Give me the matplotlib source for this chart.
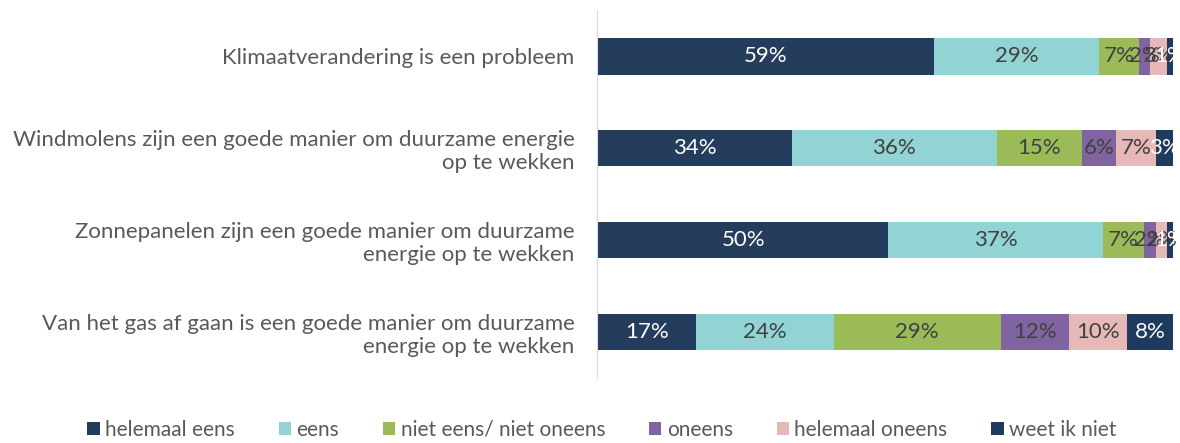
import numpy as np
import matplotlib.pyplot as plt

statements = [
    'Klimaatverandering is een probleem',
    'Windmolens zijn een goede manier om duurzame energie\nop te wekken',
    'Zonnepanelen zijn een goede manier om duurzame\nenergie op te wekken',
    'Van het gas af gaan is een goede manier om duurzame\nenergie op te wekken',
]
answers = ['helemaal eens', 'eens', 'niet eens/ niet oneens', 'oneens',
           'helemaal oneens', 'weet ik niet']
helemaal_eens = [59, 34, 50, 17]
eens = [29, 36, 37, 24]
neutraal = [7, 15, 7, 29]
oneens = [2, 6, 2, 12]
helemaal_oneens = [3, 7, 2, 10]
weet_niet = [1, 3, 1, 8]

colors = ['#243D5C', '#92D4D4', '#9BBB59', '#8064A2', '#E6B9B8', '#1F3A5F']
text_colors = ['white', '#404040', '#404040', '#404040', '#404040', 'white']

plt.rcParams['font.family'] = ['Lato', 'DejaVu Sans']

series = np.array([helemaal_eens, eens, neutraal, oneens, helemaal_oneens, weet_niet], dtype=float)
totals = series.sum(axis=0)
shares = series / totals * 100

fig = plt.figure(figsize=(11.8, 4.43), dpi=100)
ax = fig.add_axes([0.507, 0.147, 0.487, 0.83])
y = np.arange(len(statements))
left = np.zeros(len(statements))
for i, name in enumerate(answers):
    ax.barh(y, shares[i], left=left, height=0.4, color=colors[i], label=name)
    for j in range(len(statements)):
        ax.text(left[j] + shares[i][j] / 2, y[j], f'{int(series[i][j])}%',
                ha='center', va='center', fontsize=16, color=text_colors[i])
    left += shares[i]

ax.set_xlim(0, 100)
ax.set_ylim(3.5, -0.5)
ax.set_yticks(y)
ax.set_yticklabels(statements)
ax.tick_params(axis='y', length=0, pad=16, labelsize=16, labelcolor='#595959')
for lbl in ax.get_yticklabels():
    lbl.set_multialignment('center')
ax.set_xticks([])
for s in ['top', 'right', 'bottom']:
    ax.spines[s].set_visible(False)
ax.spines['left'].set_color('#D9D9D9')
ax.spines['left'].set_position(('outward', 1))

fig.legend(loc='lower center', bbox_to_anchor=(0.51, -0.035), ncol=6, frameon=False,
           fontsize=15, handlelength=0.6, handleheight=0.6, handletextpad=0.25,
           columnspacing=2.1, labelcolor='#595959')

fig.savefig('out.png', dpi=100)
